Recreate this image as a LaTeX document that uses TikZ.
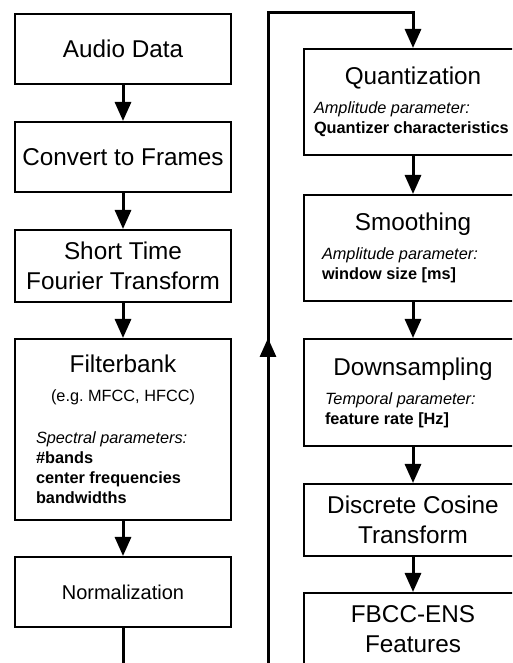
\documentclass[tikz,border=0pt]{standalone}
\usepackage{fontspec}
\setmainfont{Liberation Sans}
\usetikzlibrary{positioning,arrows.meta,decorations.markings}
\frenchspacing

\newcommand{\bigfont}{\fontsize{24.3}{30}\selectfont}
\newcommand{\smallfont}{\fontsize{16.3}{20}\selectfont}
\newcommand{\params}[3][18pt]{\par\vspace{9pt}\raggedright\leftskip=#1\relax
  \smallfont\textit{#2}\\\textbf{#3}\par}

\begin{document}
\begin{tikzpicture}[x=1pt,y=1pt,on grid,
    >={Triangle[length=19pt,width=16pt]},
    stage/.style={draw,line width=2pt,inner sep=0pt,text width=216pt,
      minimum width=216pt,minimum height=70pt,font=\bigfont,align=flush center},
    wide/.style={text width=218pt,minimum width=218pt},
    flow/.style={->,line width=3pt}]
    \useasboundingbox (0,0) rectangle (512,663);
    \clip (0,0) rectangle (512,663);

    \node[stage] (audio) at (123,614) {Audio Data};
    \node[stage] (frames) [below=108pt of audio] {Convert to Frames};
    \node[stage,minimum height=72pt] (stft) [below=109pt of frames] {Short Time\\Fourier Transform};
    \node[stage,minimum height=181pt] (filter) [below=163.5pt of stft]
        {Filterbank\par\vspace{9pt}\smallfont (e.g. MFCC, HFCC)\par\vspace{13pt}%
         \params[21pt]{Spectral parameters:}{\#bands\\center frequencies\\bandwidths}};
    \node[stage,font=\fontsize{20}{24}\selectfont] (norm) [below=162.5pt of filter] {Normalization};

    \node[stage,wide,minimum height=106pt] (quant) at (413,561)
        {Quantization\params[10pt]{Amplitude parameter:}{Quantizer characteristics}};
    \node[stage,wide,minimum height=106pt] (smooth) [below=146pt of quant]
        {Smoothing\params{Amplitude parameter:}{window size [ms]}};
    \node[stage,wide,minimum height=107pt] (down) [below=144.5pt of smooth]
        {Downsampling\params[21pt]{Temporal parameter:}{feature rate [Hz]}};
    \node[stage,wide,minimum height=72pt] (dct) [below=127.5pt of down] {Discrete Cosine\\Transform};
    \node[stage,wide,minimum height=72pt] (fbcc) [below=109pt of dct] {FBCC-ENS\\Features};

    \coordinate (loopbottom) at (268,-30);
    \coordinate (looptop) at (268,650);

    \path[flow]
        (audio) edge (frames)
        (frames) edge (stft)
        (stft) edge (filter)
        (filter) edge (norm)
        (quant) edge (smooth)
        (smooth) edge (down)
        (down) edge (dct)
        (dct) edge (fbcc);
    \draw[flow,postaction={decorate},
        decoration={markings,mark=at position 565pt with {\arrow{>}}}]
        (norm.south) |- (loopbottom) -- (looptop) -| (quant.north);
\end{tikzpicture}
\end{document}
